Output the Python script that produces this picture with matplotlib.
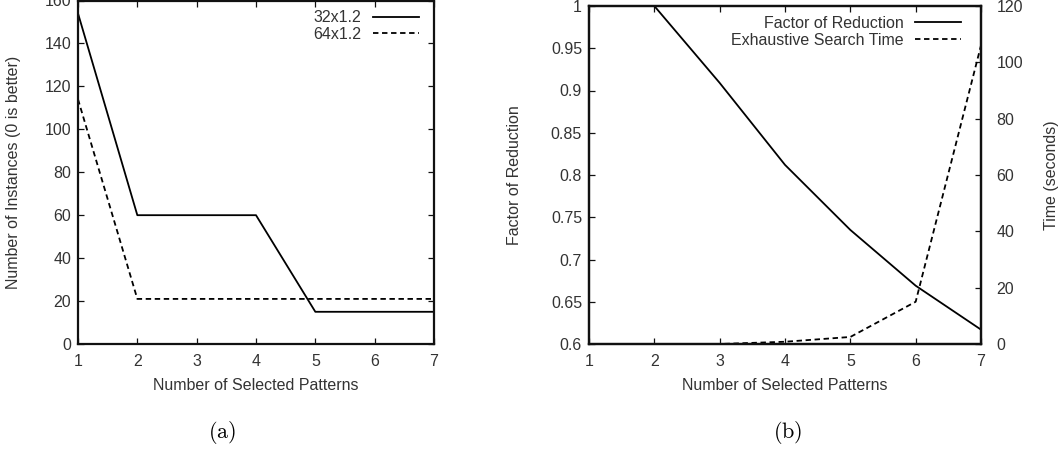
import matplotlib
matplotlib.use("Agg")
import matplotlib.pyplot as plt

# (a) data
patterns = [1, 2, 3, 4, 5, 6, 7]
inst_32 = [154, 60, 60, 60, 15, 15, 15]
inst_64 = [114, 21, 21, 21, 21, 21, 21]

# (b) data
reduction = [1.0, 1.0, 0.909, 0.812, 0.735, 0.669, 0.617]
search_time = [0, 0, 0, 0.8, 2.5, 15, 106]

plt.rcParams['font.family'] = ['Liberation Sans', 'DejaVu Sans']
plt.rcParams['font.size'] = 11.5
plt.rcParams['mathtext.fontset'] = 'cm'
txt = '#333333'

fig = plt.figure(figsize=(10.59, 4.5), dpi=100)


def style(ax):
    for s in ax.spines.values():
        s.set_linewidth(1.6)
        s.set_color('#111111')
    ax.tick_params(direction='in', length=4.5, width=0.9, colors='#111111',
                   labelcolor=txt)
    ax.tick_params(axis='x', pad=7)
    ax.tick_params(axis='y', pad=5)


# ---- (a)
ax1 = fig.add_axes([78 / 1059, 106 / 450, 356 / 1059, 343.5 / 450])
ax1.plot(patterns, inst_32, color='black', lw=1.3, label='32x1.2')
ax1.plot(patterns, inst_64, color='black', lw=1.3, ls=(0, (3, 2)), label='64x1.2')
ax1.set_xlim(1, 7)
ax1.set_ylim(0, 160)
ax1.set_xticks(range(1, 8))
ax1.set_yticks(range(0, 161, 20))
ax1.tick_params(top=True, right=True)
style(ax1)
ax1.set_xlabel('Number of Selected Patterns', color=txt, labelpad=7)
ax1.set_ylabel('Number of Instances (0 is better)', color=txt, labelpad=17)
leg1 = ax1.legend(loc='upper right', bbox_to_anchor=(1 + 1 / 356, 1 + 6 / 343.5),
                  frameon=False, markerfirst=False,
                  handlelength=2.9, borderaxespad=0.6, labelspacing=0.1,
                  handletextpad=0.7)
for t in leg1.get_texts():
    t.set_color(txt)

# ---- (b)
ax2 = fig.add_axes([589 / 1059, 106 / 450, 392 / 1059, 338 / 450])
l1, = ax2.plot(patterns, reduction, color='black', lw=1.3, label='Factor of Reduction')
ax2.set_xlim(1, 7)
ax2.set_ylim(0.6, 1.0)
ax2.set_xticks(range(1, 8))
ax2.set_yticks([0.6, 0.65, 0.7, 0.75, 0.8, 0.85, 0.9, 0.95, 1.0])
ax2.set_yticklabels(['0.6', '0.65', '0.7', '0.75', '0.8', '0.85', '0.9', '0.95', '1'])
ax2.tick_params(top=True)
style(ax2)
ax2.set_xlabel('Number of Selected Patterns', color=txt, labelpad=7)
ax2.set_ylabel('Factor of Reduction', color=txt, labelpad=21)

ax3 = ax2.twinx()
l2, = ax3.plot(patterns, search_time, color='black', lw=1.3, ls=(0, (3, 2)),
               label='Exhaustive Search Time')
ax3.set_ylim(0, 120)
ax3.set_yticks(range(0, 121, 20))
style(ax3)
ax3.tick_params(axis='y', pad=11)
ax3.set_ylabel('Time (seconds)', color=txt, labelpad=15)
leg2 = ax3.legend(handles=[l1, l2], loc='upper right',
                  bbox_to_anchor=(1 - 4 / 392, 1 + 6 / 338), frameon=False,
                  markerfirst=False, handlelength=2.9, borderaxespad=0.6,
                  labelspacing=0.1, handletextpad=0.7)
for t in leg2.get_texts():
    t.set_color(txt)

fig.text(222 / 1059, 1 - 433 / 450, r'$\mathrm{(a)}$', ha='center', va='center', fontsize=16)
fig.text(788 / 1059, 1 - 433 / 450, r'$\mathrm{(b)}$', ha='center', va='center', fontsize=16)

fig.savefig('out.png', dpi=100)
